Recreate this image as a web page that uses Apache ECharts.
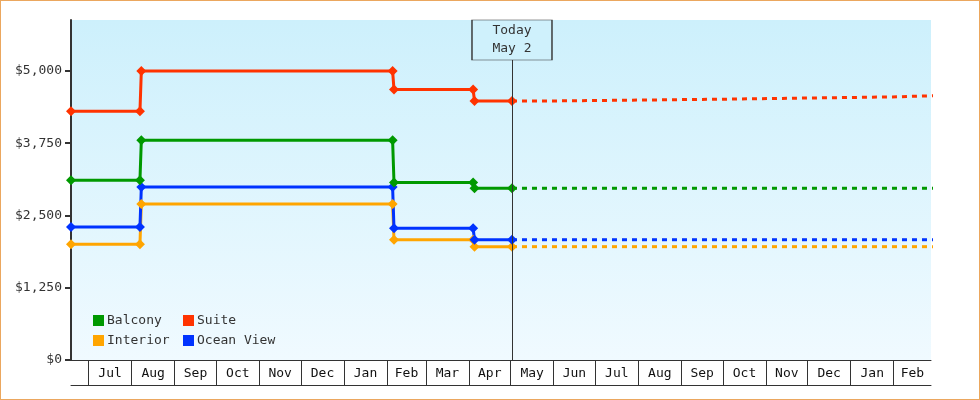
<!DOCTYPE html>
<html>
<head>
<meta charset="utf-8">
<title>Cabin prices</title>
<script src="https://cdn.jsdelivr.net/npm/echarts@6/dist/echarts.min.js"></script>
<style>
  html, body { margin: 0; padding: 0; background: #fff; }
  #wrap { position: relative; width: 980px; height: 400px; }
  #chart { position: absolute; left: 0; top: 0; width: 980px; height: 400px; }
  #frame { position: absolute; left: 0; top: 0; width: 980px; height: 400px;
           box-sizing: border-box; border: 1px solid #eba75e; pointer-events: none; }
</style>
</head>
<body>
<div id="wrap">
  <div id="chart"></div>
  <div id="frame"></div>
</div>
<script>
// axis range and marker
const xMin = '2022-06-18 08:00:00';
const xMax = '2024-02-27 20:00:00';
const today = '2023-05-02';
const todayLabel = 'Today\nMay 2';

// month bands along the bottom
const monthStarts = ['2022-07-01', '2022-08-01', '2022-09-01', '2022-10-01', '2022-11-01',
  '2022-12-01', '2023-01-01', '2023-02-01', '2023-03-01', '2023-04-01', '2023-05-01',
  '2023-06-01', '2023-07-01', '2023-08-01', '2023-09-01', '2023-10-01', '2023-11-01',
  '2023-12-01', '2024-01-01', '2024-02-01'];
const monthLabels = ['Jul', 'Aug', 'Sep', 'Oct', 'Nov', 'Dec', 'Jan', 'Feb', 'Mar', 'Apr',
  'May', 'Jun', 'Jul', 'Aug', 'Sep', 'Oct', 'Nov', 'Dec', 'Jan', 'Feb'];

const yTicks = [0, 1250, 2500, 3750, 5000];
const yMax = 5880;

// price history (solid, with markers)
const histDates = ['2022-06-18 08:00:00', '2022-08-07', '2022-08-08', '2023-02-05',
  '2023-02-06', '2023-04-04', '2023-04-05', '2023-05-02'];
const balconyHist = [3110, 3110, 3800, 3800, 3070, 3070, 2970, 2970];
const suiteHist = [4300, 4300, 5000, 5000, 4680, 4680, 4480, 4480];
const interiorHist = [2000, 2000, 2700, 2700, 2080, 2080, 1960, 1960];
const oceanHist = [2300, 2300, 2990, 2990, 2280, 2280, 2080, 2080];

// projection (dashed)
const suiteFcDates = ['2023-05-02', '2023-05-31', '2023-06-01', '2023-07-31', '2023-08-01',
  '2023-09-30', '2023-10-01', '2023-11-30', '2023-12-01', '2024-01-31', '2024-02-01', '2024-03-01'];
const suiteFc = [4480, 4480, 4495, 4495, 4510, 4510, 4530, 4530, 4550, 4550, 4570, 4570];
const flatFcDates = ['2023-05-02', '2024-03-01'];
const balconyFc = [2970, 2970];
const interiorFc = [1960, 1960];
const oceanFc = [2080, 2080];

const colors = { Balcony: '#009900', Suite: '#ff3300', Interior: '#ffa500', 'Ocean View': '#0033ff' };
const FONT = '"DejaVu Sans Mono", monospace';
const INK = '#333333';

const ts = s => echarts.time.parse(s).getTime();
const pairs = (dates, vals) => dates.map((d, i) => [ts(d), vals[i]]);

const axisEnd = ts(xMax);
const labelValues = monthStarts.map((d, i) => {
  const a = ts(d);
  const b = i + 1 < monthStarts.length ? ts(monthStarts[i + 1]) : axisEnd;
  return (a + b) / 2;
});
const labelFor = v => {
  let best = 0;
  labelValues.forEach((lv, i) => { if (Math.abs(lv - v) < Math.abs(labelValues[best] - v)) best = i; });
  return monthLabels[best];
};

function hist(name, vals) {
  return {
    name: name, type: 'line', data: pairs(histDates, vals), clip: false,
    symbol: 'diamond', symbolSize: 10, showSymbol: true,
    itemStyle: { color: colors[name] },
    lineStyle: { color: colors[name], width: 3 },
    emphasis: { disabled: true }
  };
}
function forecast(name, dates, vals) {
  return {
    name: name, type: 'line', data: pairs(dates, vals), clip: true,
    symbol: 'none', showSymbol: false,
    itemStyle: { color: colors[name] },
    lineStyle: { color: colors[name], width: 3, type: [5, 5] },
    emphasis: { disabled: true }
  };
}

const suiteSeries = hist('Suite', suiteHist);
suiteSeries.markLine = {
  silent: true, symbol: 'none', animation: false,
  label: { show: false },
  lineStyle: { color: INK, width: 1, type: 'solid' },
  data: [{ xAxis: ts(today) }]
};
suiteSeries.markPoint = {
  silent: true, animation: false,
  symbol: 'rect', symbolSize: [80, 40], symbolOffset: [0, 20],
  itemStyle: { color: '#cff1fc', borderColor: INK, borderWidth: 1 },
  label: { show: true, position: 'inside', formatter: todayLabel, color: INK,
           fontFamily: FONT, fontSize: 13, lineHeight: 18 },
  data: [{ coord: [ts(today), yMax] }]
};

const legendBase = {
  orient: 'vertical', icon: 'rect', itemWidth: 11, itemHeight: 11, itemGap: 7,
  top: 314, padding: 0, selectedMode: false,
  textStyle: { color: INK, fontFamily: FONT, fontSize: 13, padding: [0, 0, 0, -2] }
};

const chart = echarts.init(document.getElementById('chart'), null, { renderer: 'canvas' });
chart.setOption({
  animation: false,
  grid: {
    left: 71, right: 49, top: 20, bottom: 40, show: true, borderWidth: 0,
    backgroundColor: {
      type: 'linear', x: 0, y: 0, x2: 0, y2: 1,
      colorStops: [{ offset: 0, color: '#cdf0fc' }, { offset: 1, color: '#f0faff' }]
    }
  },
  legend: [
    Object.assign({}, legendBase, { left: 93, data: ['Balcony', 'Interior'] }),
    Object.assign({}, legendBase, { left: 183, data: ['Suite', 'Ocean View'] })
  ],
  xAxis: [{
    type: 'value', min: ts(xMin), max: axisEnd, position: 'bottom',
    axisLine: { show: true, lineStyle: { color: INK, width: 1 } },
    axisTick: { show: true, inside: false, length: 25, customValues: monthStarts.map(ts),
                lineStyle: { color: INK, width: 1 } },
    axisLabel: { show: true, customValues: labelValues, formatter: labelFor, margin: 7,
                 color: '#111', fontFamily: FONT, fontSize: 13, hideOverlap: false },
    splitLine: { show: false }, minorTick: { show: false }
  }, {
    type: 'value', min: ts(xMin), max: axisEnd, position: 'bottom', offset: 25,
    axisLine: { show: true, lineStyle: { color: INK, width: 1 } },
    axisTick: { show: false }, axisLabel: { show: false }, splitLine: { show: false }
  }],
  yAxis: {
    type: 'value', min: 0, max: yMax,
    axisLine: { show: true, lineStyle: { color: INK, width: 2 } },
    axisTick: { show: true, length: 6, customValues: yTicks, lineStyle: { color: INK, width: 2 } },
    axisLabel: { customValues: yTicks, margin: 9, color: INK, fontFamily: FONT, fontSize: 13,
                 formatter: v => '$' + v.toLocaleString('en-US') },
    splitLine: { show: false }
  },
  series: [
    forecast('Interior', flatFcDates, interiorFc),
    forecast('Ocean View', flatFcDates, oceanFc),
    forecast('Balcony', flatFcDates, balconyFc),
    forecast('Suite', suiteFcDates, suiteFc),
    hist('Interior', interiorHist),
    hist('Ocean View', oceanHist),
    hist('Balcony', balconyHist),
    suiteSeries
  ]
});
window.addEventListener('resize', chart.resize);
</script>
</body>
</html>
